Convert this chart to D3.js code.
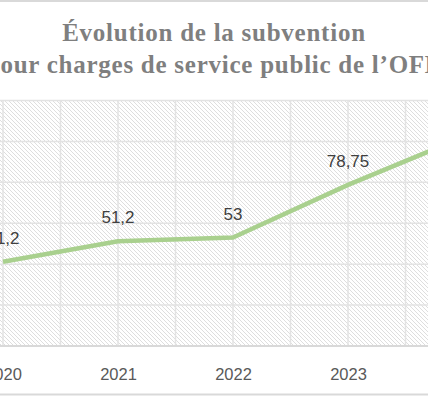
<!DOCTYPE html>
<html lang="fr">
<head>
<meta charset="utf-8">
<script src="https://cdn.jsdelivr.net/npm/d3@7"></script>
<style>
    html, body { margin: 0; padding: 0; background: #ffffff; overflow: hidden; }
    #chart { width: 428px; height: 396px; }
</style>
</head>
<body>
<div id="chart"></div>
<script>
// data
const years = ['2020', '2021', '2022', '2023', '2024'];
const subvention = [41.2, 51.2, 53, 78.75, 102];
const yTicks = [0, 20, 40, 60, 80, 100, 120];
const titleLines = ['Évolution de la subvention', 'pour charges de service public de l’OFB'];

const width = 428, height = 396;
// plot area (the picture is a crop, so the x range runs past the edges)
const plot = {top: 100.5, bottom: 346};
const step = 115;
const firstX = 3;

const svg = d3.select('#chart').append('svg')
    .attr('width', width)
    .attr('height', height)
    .attr('viewBox', `0 0 ${width} ${height}`);

// hatch pattern for the plot background
const defs = svg.append('defs');
const hatch = defs.append('pattern')
    .attr('id', 'hatch')
    .attr('patternUnits', 'userSpaceOnUse')
    .attr('width', 4)
    .attr('height', 4);
hatch.append('rect')
    .attr('width', 4)
    .attr('height', 4)
    .attr('fill', '#ffffff');
hatch.append('path')
    .attr('d', 'M0,0 L4,4 M-1,3 L1,5 M3,-1 L5,1')
    .attr('stroke', '#dedede')
    .attr('stroke-width', 1);

//************** SCALES ******************//
const xScale = d3.scalePoint()
    .domain(years)
    .range([firstX, firstX + step * (years.length - 1)]);

const yScale = d3.scaleLinear()
    .domain([0, 120])
    .range([plot.bottom, plot.top]);

// plot area background
const left = xScale(years[0]) - step / 2;
const right = xScale(years[years.length - 1]) + step / 2;
svg.append('rect')
    .attr('x', left)
    .attr('y', plot.top)
    .attr('width', right - left)
    .attr('height', plot.bottom - plot.top)
    .attr('fill', 'url(#hatch)');

//************** GRIDLINES ******************//
svg.append('g')
    .attr('class', 'yGrid')
    .selectAll('line')
    .data(yTicks.slice(1))
    .join('line')
    .attr('x1', left)
    .attr('x2', right)
    .attr('y1', d => yScale(d))
    .attr('y2', d => yScale(d))
    .attr('stroke', '#e3e3e3')
    .attr('stroke-width', 1.5);

// vertical gridlines at each category and half way between them
const halfSteps = d3.range(-1, years.length * 2);
svg.append('g')
    .attr('class', 'xGrid')
    .selectAll('line')
    .data(halfSteps)
    .join('line')
    .attr('x1', d => firstX + d * step / 2)
    .attr('x2', d => firstX + d * step / 2)
    .attr('y1', plot.top)
    .attr('y2', plot.bottom)
    .attr('stroke', '#e3e3e3')
    .attr('stroke-width', 1.5);

//************** AXIS ******************//
const xAxis = svg.append('g')
    .attr('class', 'xAxis')
    .attr('transform', `translate(0, ${plot.bottom})`)
    .call(d3.axisBottom(xScale).tickSize(0).tickPadding(22));
xAxis.select('.domain')
    .attr('d', `M${left},0H${right}`)
    .attr('stroke', '#d9d9d9')
    .attr('stroke-width', 2);
xAxis.selectAll('text')
    .style('font-family', '"Liberation Sans", Arial, sans-serif')
    .style('font-size', '16.5px')
    .attr('fill', '#595959');

//************** LINE ******************//
const points = years.map((y, i) => ({key: y, value: subvention[i]}));

svg.append('path')
    .datum(points)
    .attr('fill', 'none')
    .attr('stroke', '#a9d08e')
    .attr('stroke-width', 4.5)
    .attr('stroke-linejoin', 'round')
    .attr('d', d3.line()
        .x(d => xScale(d.key))
        .y(d => yScale(d.value)));

// value labels above each point, french decimal comma
svg.append('g')
    .attr('class', 'labels')
    .selectAll('text')
    .data(points)
    .join('text')
    .attr('x', d => xScale(d.key))
    .attr('y', d => yScale(d.value) - 18)
    .attr('text-anchor', 'middle')
    .style('font-family', '"Liberation Sans", Arial, sans-serif')
    .style('font-size', '17px')
    .attr('fill', '#404040')
    .text(d => String(d.value).replace('.', ','));

//************** TITLE ******************//
svg.append('g')
    .attr('class', 'title')
    .selectAll('text')
    .data(titleLines)
    .join('text')
    .attr('x', width / 2)
    .attr('y', (d, i) => 40.5 + i * 32)
    .attr('text-anchor', 'middle')
    .style('font-family', '"Liberation Serif", "Times New Roman", serif')
    .style('font-weight', 'bold')
    .style('font-size', '25px')
    .style('letter-spacing', '0.75px')
    .attr('fill', '#7f7f7f')
    .text(d => d);

//************** CHART BORDER ******************//
svg.append('line')
    .attr('x1', 0).attr('x2', width)
    .attr('y1', 1).attr('y2', 1)
    .attr('stroke', '#d9d9d9')
    .attr('stroke-width', 2);
svg.append('line')
    .attr('x1', 0).attr('x2', width)
    .attr('y1', 394.5).attr('y2', 394.5)
    .attr('stroke', '#d9d9d9')
    .attr('stroke-width', 2);
</script>
</body>
</html>
